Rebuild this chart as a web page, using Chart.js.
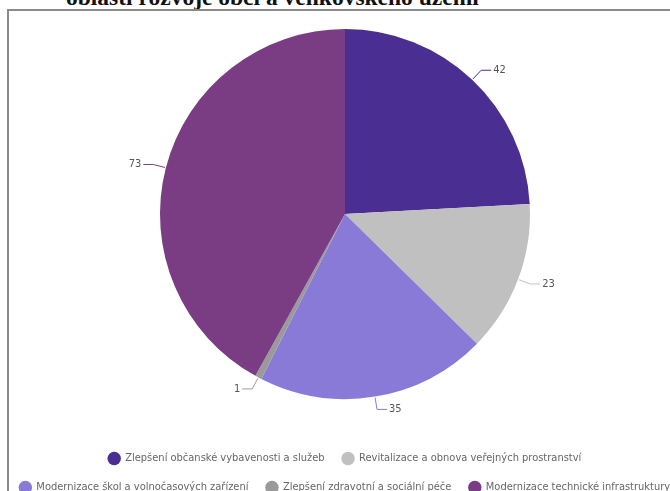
<!DOCTYPE html>
<html>
<head>
<meta charset="utf-8">
<script src="https://cdn.jsdelivr.net/npm/chart.js@4"></script>
<style>
  html, body { margin: 0; padding: 0; width: 670px; height: 491px; overflow: hidden; background: #fff; }
  #title { position: absolute; left: 66px; top: -15px; font: bold 23.5px "Liberation Serif", serif; line-height: 24px; color: #111; white-space: nowrap; }
  #frame { position: absolute; left: 7px; top: 9px; width: 700px; height: 520px; border-left: 2px solid #8a8a8a; border-top: 2px solid #8a8a8a; }
  #wrap { position: absolute; left: -10px; top: -7px; width: 710px; height: 510px; }
</style>
</head>
<body>
<div id="title">oblasti rozvoje obcí a venkovského území</div>
<div id="frame"></div>
<div id="wrap"><canvas id="c"></canvas></div>
<script>
const categories = [
  "Zlepšení občanské vybavenosti a služeb",
  "Revitalizace a obnova veřejných prostranství",
  "Modernizace škol a volnočasových zařízení",
  "Zlepšení zdravotní a sociální péče",
  "Modernizace technické infrastruktury"
];
const values = [42, 23, 35, 1, 73];
const colors = ["#4a2e92", "#c0c0c0", "#8a7ad8", "#9a9a9a", "#7a3c83"];

const FONT = '"Liberation Sans Narrow", "DejaVu Sans Condensed", "Open Sans", sans-serif';

const leaderLabels = {
  id: 'leaderLabels',
  afterDatasetsDraw(chart) {
    const ctx = chart.ctx;
    const meta = chart.getDatasetMeta(0);
    ctx.save();
    ctx.font = '11px ' + FONT;
    ctx.textBaseline = 'middle';
    meta.data.forEach((arc, i) => {
      const p = arc.getProps(['x', 'y', 'startAngle', 'endAngle', 'outerRadius'], true);
      const mid = (p.startAngle + p.endAngle) / 2;
      const dx = Math.cos(mid), dy = Math.sin(mid);
      const r = p.outerRadius;
      const sx = p.x + dx * (r + 1), sy = p.y + dy * (r + 1);
      const bx = p.x + dx * (r + 13), by = p.y + dy * (r + 13);
      const side = dx >= 0 ? 1 : -1;
      const hx = bx + side * 10;
      ctx.strokeStyle = colors[i];
      ctx.lineWidth = 1;
      ctx.beginPath();
      ctx.moveTo(sx, sy);
      ctx.lineTo(bx, by);
      ctx.lineTo(hx, by);
      ctx.stroke();
      ctx.fillStyle = '#555';
      ctx.textAlign = side > 0 ? 'left' : 'right';
      ctx.fillText(String(values[i]), hx + side * 2, by);
    });
    ctx.restore();
  }
};

new Chart(document.getElementById('c'), {
  type: 'pie',
  data: {
    labels: categories,
    datasets: [{
      data: values,
      backgroundColor: colors,
      borderWidth: 0,
      radius: 185
    }]
  },
  options: {
    responsive: true,
    maintainAspectRatio: false,
    animation: false,
    layout: { padding: 0 },
    plugins: {
      tooltip: { enabled: false },
      legend: {
        position: 'bottom',
        labels: {
          usePointStyle: true,
          pointStyle: 'circle',
          boxWidth: 11,
          boxHeight: 9.5,
          padding: 18,
          color: '#666',
          font: { family: FONT, size: 11 }
        }
      }
    }
  },
  plugins: [leaderLabels]
});
</script>
</body>
</html>
